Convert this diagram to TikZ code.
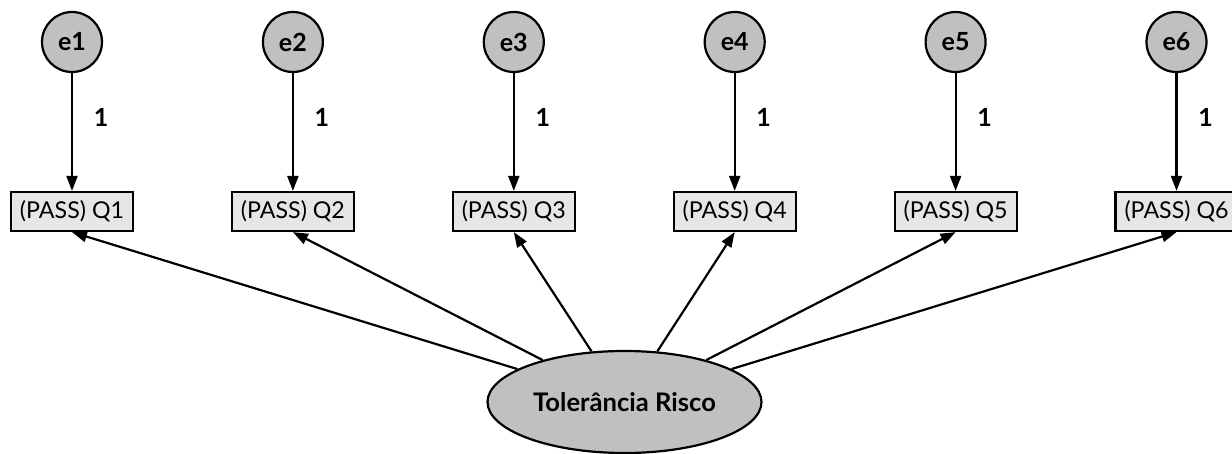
\documentclass[tikz,border=0pt]{standalone}
\usepackage{fontspec}
\setmainfont{Lato}
\usetikzlibrary{shapes.geometric,arrows.meta}
\definecolor{errgray}{RGB}{192,192,192}
\definecolor{boxgray}{RGB}{230,230,230}
\tikzset{
  errnode/.style={circle,draw,line width=1.1pt,fill=errgray,minimum size=30pt,inner sep=0pt,font=\bfseries\fontsize{12.5}{13}\selectfont},
  obsnode/.style={rectangle,draw,line width=1.1pt,fill=boxgray,minimum width=61pt,minimum height=19.5pt,inner sep=0pt,font=\fontsize{11.6}{12}\selectfont},
  latnode/.style={ellipse,draw,line width=1.1pt,fill=errgray,minimum width=137pt,minimum height=51pt,inner sep=0pt,font=\bfseries\fontsize{12.8}{13}\selectfont},
  arr/.style={line width=1.1pt,-{Triangle[length=7.5pt,width=5.5pt]}},
  wlabel/.style={font=\bfseries\fontsize{12.5}{13}\selectfont}
}
\begin{document}
\begin{tikzpicture}[x=0.5pt,y=-0.5pt]
  \useasboundingbox (0,0) rectangle (1232,454);
  \node[latnode] (tol) at (624.5,402) {Tolerância Risco};
  \foreach \i [evaluate=\i as \x using 72+(\i-1)*220.9] in {1,...,6}
  {
    \node[errnode] (e\i) at (\x,42) {e\i};
    \node[obsnode] (q\i) at (\x,211.5) {(PASS) Q\i};
    \draw[arr] (e\i) -- node[pos=0.38,right=7pt,wlabel] {1} (q\i);
    \draw[arr] (tol) -- (q\i.south);
  }
\end{tikzpicture}
\end{document}
